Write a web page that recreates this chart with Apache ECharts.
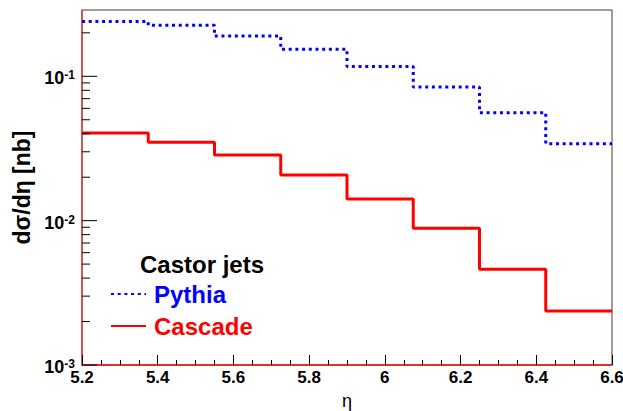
<!DOCTYPE html>
<html>
<head>
<meta charset="utf-8">
<script src="https://cdn.jsdelivr.net/npm/echarts@6/dist/echarts.min.js"></script>
<style>html,body{margin:0;padding:0;background:#fff;}#c{width:623px;height:411px;}</style>
</head>
<body>
<div id="c"></div>
<script>
// Bin edges in eta (8 bins)
const binEdges = [5.2, 5.375, 5.55, 5.725, 5.9, 6.075, 6.25, 6.425, 6.6];
// d sigma / d eta [nb]
const pythia  = [0.240, 0.226, 0.190, 0.154, 0.117, 0.0844, 0.0560, 0.0341];
const cascade = [0.0405, 0.0349, 0.0285, 0.0207, 0.0141, 0.00886, 0.00460, 0.00237];
// axis ticks
const xTickValues = [5.2, 5.4, 5.6, 5.8, 6.0, 6.2, 6.4, 6.6];
const yMajorTicks = [0.001, 0.01, 0.1];
const yMinorTicks = [0.002,0.003,0.004,0.005,0.006,0.007,0.008,0.009,
                     0.02,0.03,0.04,0.05,0.06,0.07,0.08,0.09,0.2];
const xMin = 5.2, xMax = 6.6, yMin = 0.001, yMax = 0.288;

function stepData(vals) {
  const d = vals.map((v, i) => [binEdges[i], v]);
  d.push([binEdges[binEdges.length - 1], vals[vals.length - 1]]);
  return d;
}

const tickData = yMajorTicks.map(v => [xMin, v, 1]).concat(yMinorTicks.map(v => [xMin, v, 0]));

const chart = echarts.init(document.getElementById('c'), null, {renderer: 'svg'});
const font = 'Liberation Sans, Arial, sans-serif';
chart.setOption({
  animation: false,
  backgroundColor: '#fff',
  title: {
    text: 'Castor jets', left: 140, top: 252, padding: 0,
    textStyle: {fontFamily: font, fontWeight: 'bold', fontSize: 24, color: '#000'}
  },
  legend: {
    data: [
      {name: 'Pythia', textStyle: {color: '#0000ff'}},
      {name: 'Cascade', textStyle: {color: '#ff0000'}}
    ],
    orient: 'vertical', left: 110, top: 282, padding: 0,
    itemWidth: 35, itemHeight: 24, itemGap: 8,
    itemStyle: {opacity: 0},
    textStyle: {fontFamily: font, fontWeight: 'bold', fontSize: 24, padding: [0, 0, 0, 3]}
  },
  grid: {left: 82, right: 11, top: 10, bottom: 46, show: true, borderColor: '#5a3030', borderWidth: 1,
         containLabel: false, outerBoundsMode: 'none'},
  xAxis: {
    type: 'value', min: xMin, max: xMax, interval: 0.2,
    name: 'η', nameLocation: 'middle', nameGap: 27,
    nameTextStyle: {fontFamily: font, fontSize: 18, color: '#000'},
    axisLine: {show: true, lineStyle: {color: '#ee1111', width: 1.5}},
    axisTick: {show: true, inside: true, length: 10, lineStyle: {color: '#000'}},
    minorTick: {show: true, splitNumber: 4, length: 5, lineStyle: {color: '#000'}},
    splitLine: {show: false},
    axisLabel: {margin: 4, fontFamily: font, fontWeight: 'bold', fontSize: 17, color: '#000',
      formatter: v => String(+v.toFixed(1))}
  },
  yAxis: {
    type: 'log', logBase: 10, min: yMin, max: yMax,
    name: 'dσ/dη [nb]', nameLocation: 'middle', nameGap: 40, nameRotate: 90,
    nameTextStyle: {fontFamily: font, fontWeight: 'bold', fontSize: 23, color: '#000'},
    axisLine: {show: true, lineStyle: {color: '#e04040', width: 1.5}},
    axisTick: {show: false},
    minorTick: {show: false},
    splitLine: {show: false},
    axisLabel: {
      margin: 7, padding: [4, 0, 0, 0],
      formatter: v => {
        const e = Math.round(Math.log10(v));
        if (Math.abs(v - Math.pow(10, e)) / v > 1e-6) return '';
        return '{b|10}{s|' + e + '}';
      },
      rich: {
        b: {fontFamily: font, fontWeight: 'bold', fontSize: 18, lineHeight: 18, verticalAlign: 'bottom', color: '#000'},
        s: {fontFamily: font, fontWeight: 'bold', fontSize: 12, lineHeight: 12, verticalAlign: 'top', padding: [0, 0, 7, 0], color: '#000'}
      }
    }
  },
  series: [
    {
      name: 'Pythia', type: 'line', step: 'end', data: stepData(pythia),
      symbol: 'none', showSymbol: false, silent: true, z: 3,
      lineStyle: {color: '#0000ff', width: 3, type: [3, 3.7], cap: 'butt'},
      itemStyle: {color: '#0000ff'}
    },
    {
      name: 'Cascade', type: 'line', step: 'end', data: stepData(cascade),
      symbol: 'none', showSymbol: false, silent: true, z: 3,
      lineStyle: {color: '#ff0000', width: 3, type: 'solid'},
      itemStyle: {color: '#ff0000'}
    },
    {
      name: 'yticks', type: 'custom', silent: true, z: 4,
      data: tickData,
      renderItem: (params, api) => {
        const p = api.coord([api.value(0), api.value(1)]);
        const len = api.value(2) ? 15 : 8;
        return {type: 'line', shape: {x1: p[0], y1: p[1], x2: p[0] + len, y2: p[1]},
                style: {stroke: '#000', lineWidth: 1}};
      }
    }
  ]
});
</script>
</body>
</html>
